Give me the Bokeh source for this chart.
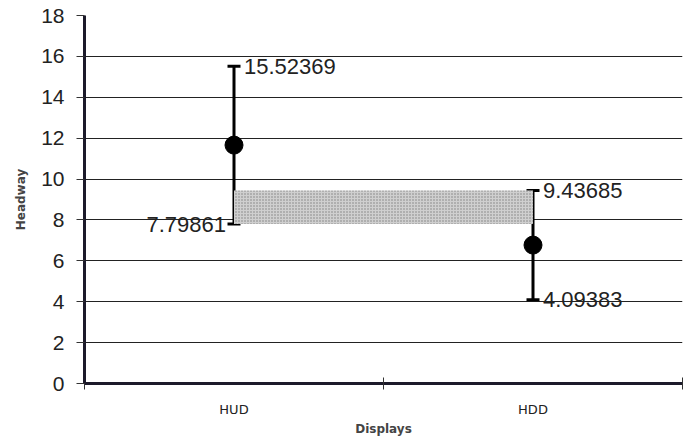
from bokeh.plotting import figure
from bokeh.models import ColumnDataSource, FixedTicker, Whisker, TeeHead, Range1d
from bokeh.core.properties import value
from bokeh.embed import file_html
from bokeh.resources import INLINE

categories = ["HUD", "HDD"]
means = [11.66, 6.77]
lower = [7.79861, 4.09383]
upper = [15.52369, 9.43685]
upper_labels = ["15.52369", "9.43685"]
lower_labels = ["7.79861", "4.09383"]
y_ticks = [0, 2, 4, 6, 8, 10, 12, 14, 16, 18]

xs = [i + 0.5 for i in range(len(categories))]
src = ColumnDataSource(dict(x=xs, mean=means, lower=lower, upper=upper,
                            ul=upper_labels, ll=lower_labels))

p = figure(width=687, height=438, output_backend="svg", toolbar_location=None,
           x_range=Range1d(0, len(categories)), y_range=Range1d(0, 18))
p.min_border_left = 84
p.min_border_top = 15
p.min_border_right = 5
p.min_border_bottom = 52
p.outline_line_color = None
p.background_fill_color = "white"
p.border_fill_color = "white"

AX = "#1c1a2a"
# y axis
p.yaxis.ticker = FixedTicker(ticks=y_ticks)
p.yaxis.axis_line_width = 3
p.yaxis.axis_line_color = AX
p.yaxis.major_tick_in = 0
p.yaxis.major_tick_out = 8
p.yaxis.major_tick_line_color = "#333333"
p.yaxis.minor_tick_line_color = None
p.yaxis.major_label_text_font = "Liberation Sans"
p.yaxis.major_label_text_font_size = "21px"
p.yaxis.major_label_text_color = "#222222"
p.yaxis.major_label_standoff = 12
p.yaxis.axis_label = "Headway"
p.yaxis.axis_label_text_font = "DejaVu Sans"
p.yaxis.axis_label_text_font_size = "12px"
p.yaxis.axis_label_text_font_style = "bold"
p.yaxis.axis_label_standoff = 10

# x axis
p.xaxis.ticker = FixedTicker(ticks=xs, minor_ticks=list(range(len(categories) + 1)))
p.xaxis.major_label_overrides = {x: c for x, c in zip(xs, categories)}
p.xaxis.axis_line_width = 3
p.xaxis.axis_line_color = AX
p.xaxis.major_tick_in = 0
p.xaxis.major_tick_out = 0
p.xaxis.minor_tick_in = 6
p.xaxis.minor_tick_out = 6
p.xaxis.minor_tick_line_color = "#333333"
p.xaxis.major_label_text_font = "DejaVu Sans"
p.xaxis.major_label_text_font_size = "13px"
p.xaxis.major_label_text_color = "#222222"
p.xaxis.major_label_standoff = 12
p.xaxis.axis_label = "Displays"
p.xaxis.axis_label_text_font = "DejaVu Sans"
p.xaxis.axis_label_text_font_size = "12px"
p.xaxis.axis_label_text_font_style = "bold"
p.xaxis.axis_label_standoff = 2

p.xgrid.grid_line_color = None
p.ygrid.ticker = FixedTicker(ticks=y_ticks)
p.ygrid.grid_line_color = "#222222"
p.ygrid.grid_line_width = 1

# shaded band between HUD lower bound and HDD upper bound
p.quad(left=[xs[0]], right=[xs[1]], bottom=[lower[0]], top=[upper[1]],
       fill_color="#cfcfcf", line_color=None,
       hatch_pattern="dot", hatch_color="#808080", hatch_scale=3, hatch_weight=1)

w = Whisker(source=src, base="x", upper="upper", lower="lower",
            line_width=3, line_color="black",
            upper_head=TeeHead(size=13, line_width=3, line_color="black"),
            lower_head=TeeHead(size=13, line_width=3, line_color="black"))
p.add_layout(w)

p.scatter(x="x", y="mean", source=src, size=18, color="black")

p.text(x="x", y="upper", text="ul", source=src, x_offset=10,
       text_align="left", text_baseline="middle",
       text_font=value("Liberation Sans"), text_font_size="22px", text_color="#222222")
p.text(x=[xs[0]], y=[lower[0]], text=[lower_labels[0]], x_offset=-8,
       text_align="right", text_baseline="middle",
       text_font=value("Liberation Sans"), text_font_size="22px", text_color="#222222")
p.text(x=[xs[1]], y=[lower[1]], text=[lower_labels[1]], x_offset=10,
       text_align="left", text_baseline="middle",
       text_font=value("Liberation Sans"), text_font_size="22px", text_color="#222222")

open("out.html", "w").write(file_html(p, INLINE))
